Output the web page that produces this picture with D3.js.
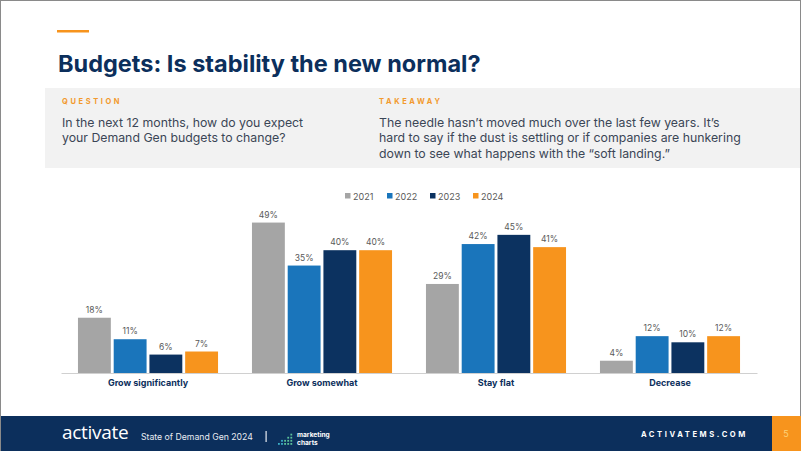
<!DOCTYPE html>
<html><head><meta charset="utf-8">
<script src="https://cdn.jsdelivr.net/npm/d3@7"></script>
<style>
html,body{margin:0;padding:0;background:#fff;}
svg{display:block;}
</style></head>
<body>
<script>
const categories = ["Grow significantly","Grow somewhat","Stay flat","Decrease"];
const years = ["2021","2022","2023","2024"];
const values2021 = [18,49,29,4];
const values2022 = [11,35,42,12];
const values2023 = [6,40,45,10];
const values2024 = [7,40,41,12];
const seriesValues = [values2021, values2022, values2023, values2024];
const colors = ["#a5a5a5","#1a75bb","#0c3260","#f7941d"];

const W = 802, H = 451;
const svg = d3.select("body").append("svg").attr("width",W).attr("height",H);
const FONT = "Inter, 'Open Sans', sans-serif";
const NAVY = "#0c2f5c";

// frame
svg.append("rect").attr("x",0.5).attr("y",0.5).attr("width",W-2).attr("height",H-1)
  .attr("fill","#fff").attr("stroke","#8a8a8a").attr("stroke-width",1);

// accent line
svg.append("rect").attr("x",57).attr("y",30).attr("width",32).attr("height",2.5).attr("fill","#f7941d");

// title
svg.append("text").attr("x",58).attr("y",72).text("Budgets: Is stability the new normal?")
  .attr("font-family",FONT).attr("font-weight",700).attr("font-size",23.5).attr("fill",NAVY);

// gray box
svg.append("rect").attr("x",45).attr("y",88).attr("width",755).attr("height",80).attr("fill","#f2f2f2");

function label(x,y,t){
  svg.append("text").attr("x",x).attr("y",y).text(t).attr("font-family",FONT).attr("font-weight",700)
    .attr("font-size",7.5).attr("letter-spacing",2.6).attr("fill","#f29a2e");
}
label(62,104,"QUESTION");
label(379,104,"TAKEAWAY");

function para(x,y,lines){
  const t = svg.append("text").attr("font-family",FONT).attr("font-size",12.3).attr("fill","#3b4656");
  lines.forEach((l,i)=>t.append("tspan").attr("x",x).attr("y",y+i*15.3).text(l));
}
para(62,127,["In the next 12 months, how do you expect","your Demand Gen budgets to change?"]);
para(379,127,["The needle hasn\u2019t moved much over the last few years. It\u2019s","hard to say if the dust is settling or if companies are hunkering","down to see what happens with the \u201csoft landing.\u201d"]);

// chart
const x0 = d3.scaleBand().domain(categories).range([61,757]).paddingInner(0.195).paddingOuter(0.0975);
const x1 = d3.scaleBand().domain(years).range([0,x0.bandwidth()]).paddingInner(0.08);
const y = d3.scaleLinear().domain([0,50]).range([373,219.5]);

// legend
const legX = [345,387,430,473];
const leg = svg.append("g");
years.forEach((yr,i)=>{
  leg.append("rect").attr("x",legX[i]).attr("y",193).attr("width",5.5).attr("height",5.5).attr("fill",colors[i]);
  leg.append("text").attr("x",legX[i]+8).attr("y",199.5).text(yr).attr("font-family",FONT)
    .attr("font-size",9).attr("fill","#595959");
});

const groups = svg.append("g").selectAll("g").data(categories).join("g")
  .attr("transform",d=>`translate(${x0(d)},0)`);
groups.each(function(cat,ci){
  const g = d3.select(this);
  years.forEach((yr,si)=>{
    const v = seriesValues[si][ci];
    g.append("rect").attr("x",x1(yr)).attr("y",y(v)).attr("width",x1.bandwidth())
      .attr("height",y(0)-y(v)).attr("fill",colors[si]);
    g.append("text").attr("x",x1(yr)+x1.bandwidth()/2).attr("y",y(v)-5).attr("text-anchor","middle")
      .text(v+"%").attr("font-family",FONT).attr("font-size",8.5).attr("fill","#595959");
  });
});

// axis
const xAxis = d3.axisBottom(x0).tickSize(0).tickPadding(7);
const ax = svg.append("g").attr("transform","translate(0,373)").call(xAxis);
ax.select(".domain").attr("stroke","#d0d0d0").attr("stroke-width",1);
ax.selectAll("text").attr("font-family",FONT).attr("font-weight",700).attr("font-size",9)
  .attr("fill",NAVY);

// footer
svg.append("rect").attr("x",1).attr("y",416).attr("width",W-2).attr("height",35).attr("fill","#0c2f5c");
svg.append("rect").attr("x",772).attr("y",416).attr("width",29).attr("height",35).attr("fill","#f7941d");
svg.append("text").attr("x",786).attr("y",437).attr("text-anchor","middle").text("5")
  .attr("font-family",FONT).attr("font-size",9).attr("fill","#fcd27a");
svg.append("text").attr("x",62).attr("y",439).text("activate").attr("font-family","'Open Sans',sans-serif")
  .attr("font-size",19).attr("font-weight",500).attr("fill","#fff").attr("letter-spacing",-0.3);
svg.append("text").attr("x",141).attr("y",440).text("State of Demand Gen 2024").attr("font-family",FONT)
  .attr("font-size",8.7).attr("fill","#e8ecf2");
svg.append("rect").attr("x",265.5).attr("y",431).attr("width",1.2).attr("height",11).attr("fill","#e8ecf2");
// marketing charts icon
const icon = svg.append("g");
const colH = [1,2,2,3,4];
colH.forEach((h,c)=>{
  for(let r=0;r<h;r++){
    icon.append("rect").attr("x",278+c*3.1).attr("y",443-r*3.1).attr("width",1.8).attr("height",1.8)
      .attr("fill", c<2 ? "#3bb0c9" : "#5cc29a");
  }
});
const mc = svg.append("text").attr("font-family",FONT).attr("font-weight",700).attr("font-size",6.6).attr("fill","#fff");
mc.append("tspan").attr("x",297).attr("y",437).text("marketing");
mc.append("tspan").attr("x",297).attr("y",444.5).text("charts");
svg.append("text").attr("x",748).attr("y",437).attr("text-anchor","end").text("ACTIVATEMS.COM")
  .attr("font-family",FONT).attr("font-weight",700).attr("font-size",7.6).attr("letter-spacing",2.6).attr("fill","#fff");
</script>
</body></html>
